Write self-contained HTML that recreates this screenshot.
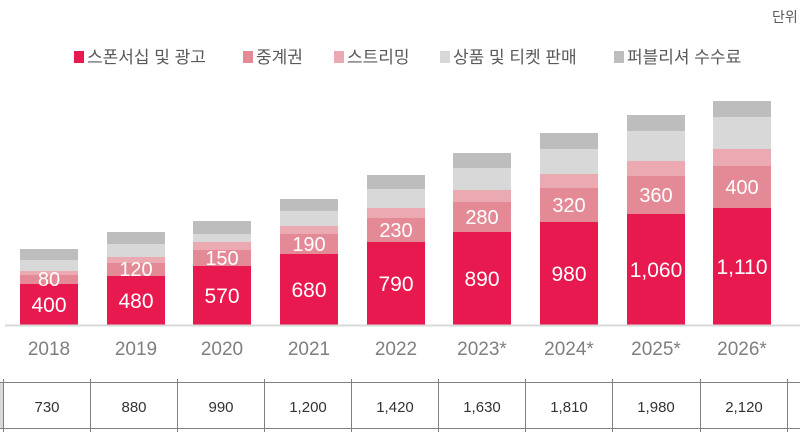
<!DOCTYPE html>
<html><head><meta charset="utf-8"><style>
html,body{margin:0;padding:0;background:#fff;width:800px;height:440px;overflow:hidden}
svg text{font-family:"Liberation Sans","Noto Sans CJK KR",sans-serif}
</style></head><body>
<svg width="800" height="440" xmlns="http://www.w3.org/2000/svg">
<text x="772" y="22" font-size="14" fill="#595959">단위</text>
<g font-size="17" fill="#595959">
<rect x="74" y="51" width="10" height="12" fill="#e8194f"/><text x="87" y="63">스폰서십 및 광고</text>
<rect x="243" y="51" width="10" height="12" fill="#e38a96"/><text x="256" y="63">중계권</text>
<rect x="334" y="51" width="10" height="12" fill="#ebaab2"/><text x="347" y="63">스트리밍</text>
<rect x="440" y="51" width="10" height="12" fill="#d8d8d8"/><text x="453" y="63">상품 및 티켓 판매</text>
<rect x="614" y="51" width="10" height="12" fill="#bdbdbd"/><text x="627" y="63">퍼블리셔 수수료</text>
</g>

<g>
<g transform="translate(20,0)"><rect y="249" width="58" height="11" fill="#bdbdbd"/><rect y="260" width="58" height="11" fill="#d8d8d8"/><rect y="271" width="58" height="4" fill="#ebaab2"/><rect y="275" width="58" height="9" fill="#e38a96"/><rect y="284" width="58" height="41" fill="#e8194f"/></g>
<g transform="translate(107,0)"><rect y="232" width="58" height="12" fill="#bdbdbd"/><rect y="244" width="58" height="13" fill="#d8d8d8"/><rect y="257" width="58" height="6" fill="#ebaab2"/><rect y="263" width="58" height="13" fill="#e38a96"/><rect y="276" width="58" height="49" fill="#e8194f"/></g>
<g transform="translate(193,0)"><rect y="221" width="58" height="13" fill="#bdbdbd"/><rect y="234" width="58" height="8" fill="#d8d8d8"/><rect y="242" width="58" height="8" fill="#ebaab2"/><rect y="250" width="58" height="16" fill="#e38a96"/><rect y="266" width="58" height="59" fill="#e8194f"/></g>
<g transform="translate(280,0)"><rect y="199" width="58" height="12" fill="#bdbdbd"/><rect y="211" width="58" height="15" fill="#d8d8d8"/><rect y="226" width="58" height="8" fill="#ebaab2"/><rect y="234" width="58" height="20" fill="#e38a96"/><rect y="254" width="58" height="71" fill="#e8194f"/></g>
<g transform="translate(367,0)"><rect y="175" width="58" height="14" fill="#bdbdbd"/><rect y="189" width="58" height="19" fill="#d8d8d8"/><rect y="208" width="58" height="10" fill="#ebaab2"/><rect y="218" width="58" height="24" fill="#e38a96"/><rect y="242" width="58" height="83" fill="#e8194f"/></g>
<g transform="translate(453,0)"><rect y="153" width="58" height="15" fill="#bdbdbd"/><rect y="168" width="58" height="22" fill="#d8d8d8"/><rect y="190" width="58" height="12" fill="#ebaab2"/><rect y="202" width="58" height="30" fill="#e38a96"/><rect y="232" width="58" height="93" fill="#e8194f"/></g>
<g transform="translate(540,0)"><rect y="133" width="58" height="16" fill="#bdbdbd"/><rect y="149" width="58" height="25" fill="#d8d8d8"/><rect y="174" width="58" height="14" fill="#ebaab2"/><rect y="188" width="58" height="34" fill="#e38a96"/><rect y="222" width="58" height="103" fill="#e8194f"/></g>
<g transform="translate(627,0)"><rect y="115" width="58" height="16" fill="#bdbdbd"/><rect y="131" width="58" height="30" fill="#d8d8d8"/><rect y="161" width="58" height="15" fill="#ebaab2"/><rect y="176" width="58" height="38" fill="#e38a96"/><rect y="214" width="58" height="111" fill="#e8194f"/></g>
<g transform="translate(713,0)"><rect y="101" width="58" height="16" fill="#bdbdbd"/><rect y="117" width="58" height="32" fill="#d8d8d8"/><rect y="149" width="58" height="17" fill="#ebaab2"/><rect y="166" width="58" height="42" fill="#e38a96"/><rect y="208" width="58" height="117" fill="#e8194f"/></g>
</g>

<g fill="#fff" text-anchor="middle" font-size="20">
<text x="49" y="286">80</text><text x="136" y="276">120</text><text x="222" y="265">150</text><text x="309" y="251">190</text><text x="396" y="237">230</text><text x="482" y="224">280</text><text x="569" y="212">320</text><text x="656" y="202">360</text><text x="742" y="194">400</text>
</g>
<g fill="#fff" text-anchor="middle" font-size="21">
<text x="49" y="312">400</text><text x="136" y="308">480</text><text x="222" y="303">570</text><text x="309" y="297">680</text><text x="396" y="291">790</text><text x="482" y="286">890</text><text x="569" y="281">980</text><text x="656" y="277">1,060</text><text x="742" y="274">1,110</text>
</g>

<line x1="5" y1="325.5" x2="800" y2="325.5" stroke="#d9d9d9" stroke-width="2"/>

<g font-size="19" fill="#7f7f7f" text-anchor="middle">
<text x="49" y="355">2018</text><text x="136" y="355">2019</text><text x="222" y="355">2020</text><text x="309" y="355">2021</text><text x="396" y="355">2022</text><text x="482" y="355">2023*</text><text x="569" y="355">2024*</text><text x="656" y="355">2025*</text><text x="742" y="355">2026*</text>
</g>

<rect x="0" y="382" width="3" height="47" fill="#d9d9d9"/>
<g stroke="#808080" stroke-width="1">
<line x1="0" y1="382.5" x2="800" y2="382.5"/>
<line x1="0" y1="428.5" x2="800" y2="428.5"/>
<line x1="3.5" y1="379" x2="3.5" y2="432"/>
<line x1="90.5" y1="379" x2="90.5" y2="432"/>
<line x1="177.5" y1="379" x2="177.5" y2="432"/>
<line x1="264.5" y1="379" x2="264.5" y2="432"/>
<line x1="351.5" y1="379" x2="351.5" y2="432"/>
<line x1="438.5" y1="379" x2="438.5" y2="432"/>
<line x1="525.5" y1="379" x2="525.5" y2="432"/>
<line x1="612.5" y1="379" x2="612.5" y2="432"/>
<line x1="700.5" y1="379" x2="700.5" y2="432"/>
<line x1="787.5" y1="379" x2="787.5" y2="432"/>
</g>
<g font-size="15" fill="#333" text-anchor="middle">
<text x="47" y="412">730</text><text x="134" y="412">880</text><text x="221" y="412">990</text><text x="308" y="412">1,200</text><text x="395" y="412">1,420</text><text x="482" y="412">1,630</text><text x="569" y="412">1,810</text><text x="656" y="412">1,980</text><text x="744" y="412">2,120</text>
</g>
</svg>
</body></html>
